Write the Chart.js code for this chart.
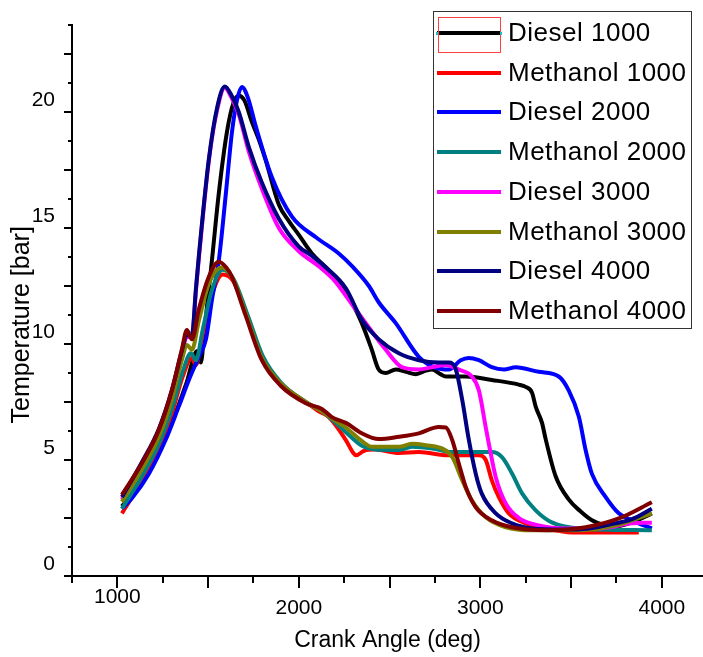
<!DOCTYPE html>
<html>
<head>
<meta charset="utf-8">
<script src="https://cdn.jsdelivr.net/npm/chart.js@4.4.1/dist/chart.umd.min.js"></script>
<style>
  html, body { margin: 0; padding: 0; background: #fff; overflow: hidden; }
  canvas { display: block; }
</style>
</head>
<body>
<canvas id="chart" width="703" height="657"></canvas>
<script>
// ── Data ──────────────────────────────────────────────────
const labels = ['Diesel 1000', 'Methanol 1000', 'Diesel 2000', 'Methanol 2000',
                'Diesel 3000', 'Methanol 3000', 'Diesel 4000', 'Methanol 4000'];
const colors = ['#000000', '#ff0000', '#0000ff', '#008080',
                '#ff00ff', '#808000', '#000080', '#800000'];

const xD1000 = [1025,1100,1200,1300,1380,1440,1460,1480,1521,1559,1603,1640,1670,1700,1740,1780,1818,1890,1945,2000,2072,2150,2230,2292,2347,2400,2440,2478,2534,2590,2645,2700,2734,2780,2810,2920,3063,3212,3250,3285,3305,3340,3360,3415,3487,3550,3615,3680,3750,3850,3945];
const yD1000 = [3.0,3.7,4.9,6.6,8.3,9.7,9.2,10.6,13.6,16.5,19.1,20.4,20.7,20.5,19.6,18.8,17.9,16.0,15.3,14.7,13.9,13.3,12.6,11.8,10.9,9.8,8.9,8.75,8.9,8.8,8.7,8.85,8.9,8.7,8.6,8.6,8.45,8.25,8.15,7.9,7.3,6.6,5.9,4.3,3.3,2.8,2.4,2.2,2.15,2.35,2.7];

const xM1000 = [1025,1135,1229,1300,1360,1410,1433,1470,1520,1581,1640,1720,1800,1900,2038,2110,2165,2259,2300,2315,2360,2420,2551,2661,2826,2992,3030,3063,3102,3157,3250,3360,3504,3700,3873];
const yM1000 = [2.7,4.1,5.5,7.0,8.6,9.4,9.1,10.4,12.1,13.0,12.7,11.1,9.4,8.3,7.5,7.1,6.85,5.86,5.3,5.2,5.4,5.45,5.3,5.34,5.2,5.2,5.0,4.13,3.4,2.7,2.27,2.05,1.88,1.88,1.88];

const xD2000 = [1025,1080,1173,1265,1338,1394,1449,1488,1521,1559,1598,1631,1659,1686,1720,1762,1851,1961,2094,2220,2300,2386,2440,2534,2661,2755,2826,2892,2936,2992,3063,3130,3195,3322,3432,3487,3543,3581,3615,3691,3763,3835,3945];
const yD2000 = [2.9,3.35,4.4,5.85,7.3,8.45,9.45,10.2,11.9,13.6,16.5,19.1,20.5,21.08,20.6,19.4,17.2,15.5,14.6,13.9,13.3,12.5,11.8,10.9,9.45,8.97,8.9,9.3,9.4,9.3,9.0,8.9,9.0,8.8,8.6,8.0,6.86,5.4,4.4,3.4,2.7,2.4,2.05];

const xM2000 = [1025,1135,1229,1300,1360,1405,1433,1470,1520,1581,1640,1720,1800,1900,2038,2127,2182,2259,2350,2420,2551,2623,2734,2845,3063,3118,3174,3230,3305,3394,3543,3945];
const yM2000 = [2.9,4.3,5.7,7.2,8.8,9.6,9.3,10.6,12.3,13.2,12.8,11.2,9.5,8.35,7.5,7.1,6.75,6.2,5.6,5.45,5.43,5.57,5.5,5.34,5.34,5.13,4.43,3.56,2.83,2.31,2.05,1.97];

const xD3000 = [1025,1135,1229,1300,1355,1383,1411,1433,1449,1504,1550,1592,1630,1669,1724,1796,1890,2000,2110,2200,2275,2369,2479,2568,2661,2734,2810,2881,2953,2992,3030,3047,3085,3140,3212,3322,3470,3652,3835,3945];
const yD3000 = [3.3,4.8,6.3,7.9,9.6,10.3,10.3,12.3,13.7,17.9,20.1,21.05,20.6,19.9,18.3,16.7,15.0,14.0,13.35,12.7,11.9,10.9,9.75,9.0,8.9,9.0,9.1,8.9,8.6,8.0,6.4,5.7,4.26,3.13,2.5,2.18,2.05,2.05,2.27,2.3];

const xM3000 = [1025,1135,1229,1300,1355,1383,1411,1449,1504,1575,1631,1708,1796,1900,2038,2127,2182,2259,2350,2403,2551,2623,2700,2788,2845,2900,2953,3030,3140,3285,3560,3746,3945];
const yM3000 = [3.2,4.6,6.0,7.6,9.3,9.96,9.75,11.0,12.6,13.3,12.9,11.3,9.4,8.3,7.5,7.1,6.8,6.4,5.8,5.57,5.57,5.7,5.64,5.5,5.13,4.13,3.26,2.53,2.1,1.97,1.97,2.18,2.7];

const xD4000 = [1025,1135,1229,1300,1355,1383,1411,1433,1449,1504,1550,1592,1630,1669,1724,1796,1890,2000,2072,2149,2259,2347,2441,2551,2661,2771,2826,2865,2900,2936,2975,3008,3085,3174,3285,3450,3600,3700,3835,3945];
const yD4000 = [3.4,4.9,6.35,8.0,9.7,10.4,10.4,12.4,13.8,17.96,20.2,21.1,20.7,20.0,18.5,16.96,15.4,14.2,13.8,13.3,12.4,11.05,10.2,9.6,9.3,9.2,9.2,8.9,7.6,5.9,4.4,3.55,2.7,2.27,2.05,2.0,2.05,2.2,2.45,2.9];

const xM4000 = [1025,1135,1229,1300,1355,1383,1411,1449,1504,1559,1600,1631,1708,1796,1900,2038,2127,2182,2259,2347,2441,2551,2661,2771,2810,2845,2881,2920,2975,3063,3174,3377,3581,3763,3945];
const yM4000 = [3.5,4.86,6.3,8.0,9.75,10.6,10.2,11.5,12.9,13.55,13.3,12.9,11.2,9.3,8.2,7.45,7.2,6.85,6.6,6.15,5.9,6.0,6.15,6.42,6.4,5.86,4.86,3.83,2.96,2.4,2.1,1.97,2.1,2.48,3.18];

const seriesX = [xD1000, xM1000, xD2000, xM2000, xD3000, xM3000, xD4000, xM4000];
const seriesY = [yD1000, yM1000, yD2000, yM2000, yD3000, yM3000, yD4000, yM4000];

// axis ranges / ticks
const xMin = 750, xMax = 4227;
const xTickValues = [750, 1000, 1250, 1500, 1750, 2000, 2250, 2500, 2750, 3000, 3250, 3500, 3750, 4000];
const xTickLabels = [1000, 2000, 3000, 4000];
const yMin = 0, yMax = 23.75, yStep = 1.25;

const FONT = '"Liberation Sans", Arial, sans-serif';
Chart.defaults.font.family = FONT;
Chart.defaults.color = '#000';

// ── Tick marks (major / minor lengths differ) + x labels ──
const tickMarks = {
  id: 'tickMarks',
  afterDraw(chart) {
    const { ctx, scales: { x, y } } = chart;
    ctx.save();
    ctx.strokeStyle = '#000';
    ctx.lineWidth = 2;
    ctx.beginPath();
    x.ticks.forEach(t => {
      const px = Math.round(x.getPixelForValue(t.value));
      const len = t.value % 500 === 0 ? 12 : 7;
      ctx.moveTo(px, y.bottom);
      ctx.lineTo(px, y.bottom + len);
    });
    y.ticks.forEach(t => {
      const py = Math.round(y.getPixelForValue(t.value));
      const len = t.value % 2.5 === 0 ? 8 : 4;
      ctx.moveTo(x.left, py);
      ctx.lineTo(x.left - len, py);
    });
    ctx.stroke();

    // x tick labels (the first one sits a little higher in the source)
    ctx.fillStyle = '#000';
    ctx.font = '21px ' + FONT;
    ctx.textAlign = 'center';
    ctx.textBaseline = 'middle';
    xTickLabels.forEach((v, i) => {
      const px = x.getPixelForValue(v);
      ctx.fillText(String(v), px, x.top + (i === 0 ? 21 : 32));
    });
    ctx.restore();
  }
};

// ── Boxed legend in the upper right ───────────────────────
const boxLegend = {
  id: 'boxLegend',
  afterDraw(chart) {
    const ctx = chart.ctx;
    const L = 433, T = 11, R = 691, B = 328;
    const rowH = 39.7, firstY = 33;
    ctx.save();
    ctx.fillStyle = '#fff';
    ctx.fillRect(L, T, R - L, B - T);
    ctx.strokeStyle = '#333';
    ctx.lineWidth = 1;
    ctx.strokeRect(L + 0.5, T + 0.5, R - L, B - T);

    chart.data.datasets.forEach((ds, i) => {
      const yy = Math.round(firstY + i * rowH);
      ctx.strokeStyle = ds.borderColor;
      ctx.lineWidth = 4;
      ctx.beginPath();
      ctx.moveTo(437, yy);
      ctx.lineTo(501, yy);
      ctx.stroke();
      ctx.fillStyle = '#000';
      ctx.font = '26px ' + FONT;
      ctx.letterSpacing = '0.5px';
      ctx.textBaseline = 'middle';
      ctx.textAlign = 'left';
      ctx.fillText(ds.label, 508, yy + 1);
    });

    // selection frame around the first sample (as in the source image)
    ctx.strokeStyle = '#ff4040';
    ctx.lineWidth = 1;
    ctx.strokeRect(438.5, 17.5, 62, 35);
    ctx.fillStyle = '#20c0c0';
    ctx.fillRect(436, 32, 2, 3);
    ctx.fillRect(500, 32, 2, 3);
    ctx.restore();
  }
};

const datasets = labels.map((l, i) => ({
  label: l,
  data: seriesX[i].map((v, j) => ({ x: v, y: seriesY[i][j] })),
  borderColor: colors[i],
  backgroundColor: colors[i],
  borderWidth: 4,
  pointRadius: 0,
  cubicInterpolationMode: 'monotone',
  fill: false,
  order: labels.length - i,
}));

new Chart(document.getElementById('chart'), {
  type: 'line',
  data: { datasets },
  options: {
    responsive: false,
    animation: false,
    layout: { padding: { top: 25, right: 0, left: 0, bottom: 0 } },
    plugins: {
      legend: { display: false },
      tooltip: { enabled: false },
    },
    scales: {
      x: {
        type: 'linear',
        bounds: 'data',
        min: xMin, max: xMax,
        grid: { display: false },
        border: { display: true, color: '#000', width: 2 },
        ticks: { display: false },
        afterBuildTicks: s => { s.ticks = xTickValues.map(v => ({ value: v })); },
        title: {
          display: true,
          text: 'Crank Angle (deg)',
          font: { size: 23 },
          color: '#000',
          padding: { top: 0, bottom: 3 },
        },
        afterFit: s => { s.height = 81; },
      },
      y: {
        bounds: 'data',
        min: yMin, max: yMax,
        grid: { display: false },
        border: { display: true, color: '#000', width: 2 },
        ticks: {
          stepSize: yStep,
          includeBounds: false,
          autoSkip: false,
          padding: 9,
          labelOffset: -12,
          font: { size: 21 },
          color: '#000',
          callback: v => (v % 5 === 0 ? String(v) : ''),
        },
        title: {
          display: true,
          text: 'Temperature [bar]       ',
          font: { size: 25 },
          color: '#000',
          padding: { top: 7, bottom: 0 },
        },
        afterFit: s => { s.width = 72; },
      },
    },
  },
  plugins: [tickMarks, boxLegend],
});
</script>
</body>
</html>
